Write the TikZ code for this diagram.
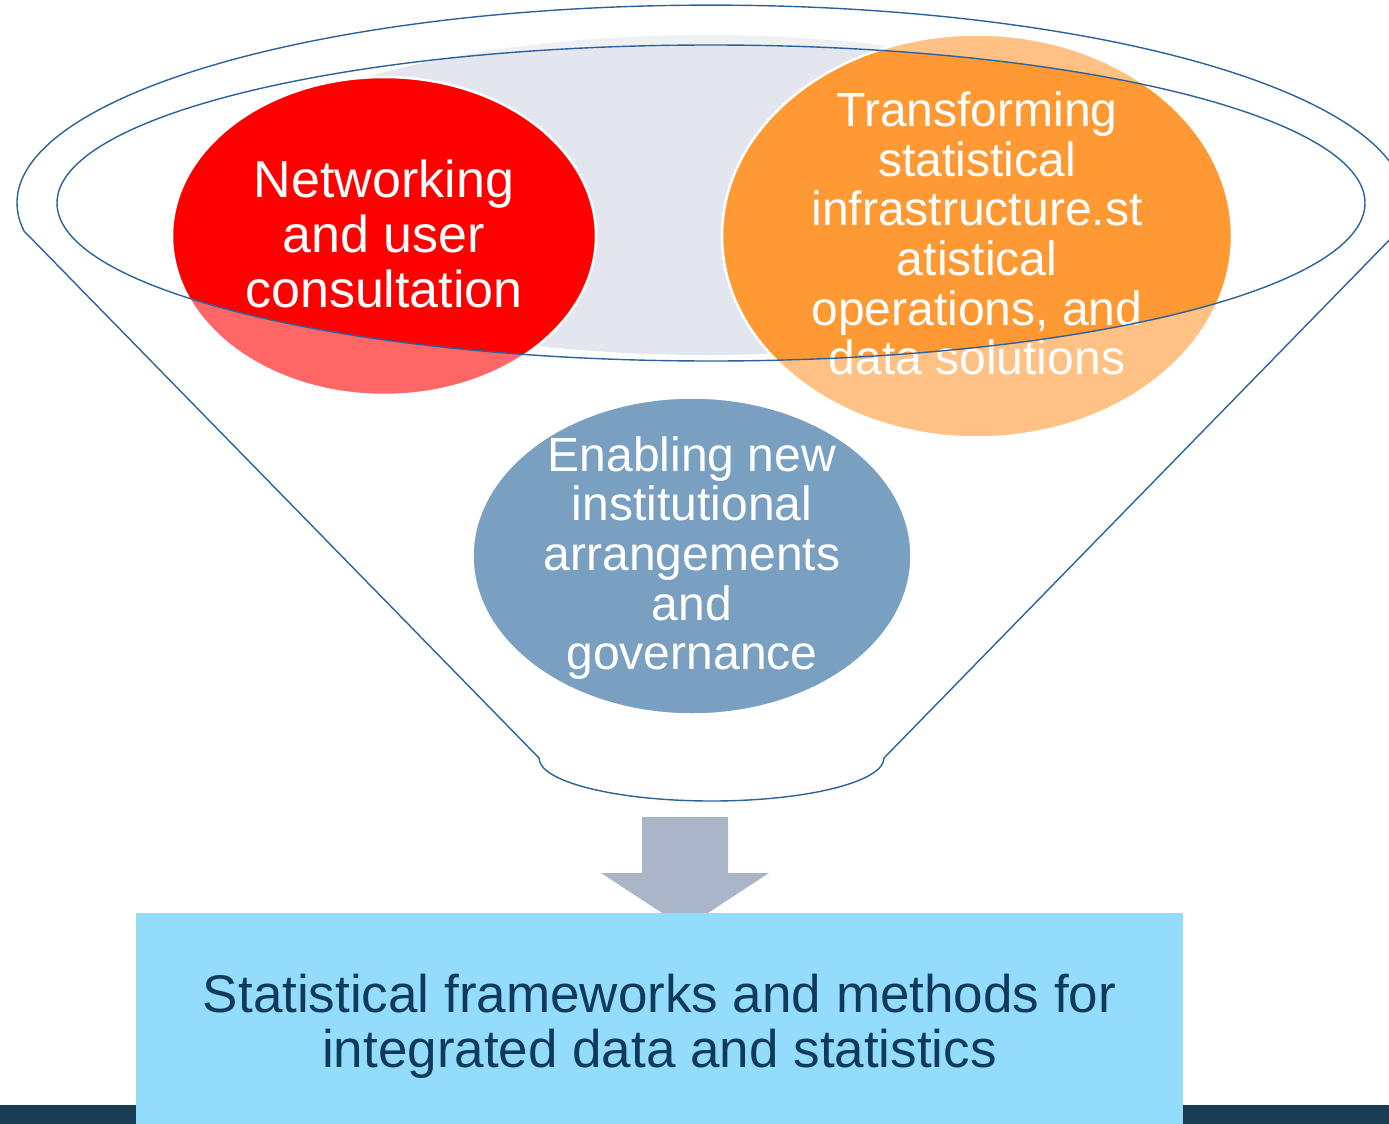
\documentclass[tikz,border=0pt]{standalone}
\usepackage{fontspec}
\setmainfont{Liberation Sans}
\usetikzlibrary{shapes.geometric}
\definecolor{funnelline}{RGB}{44,98,156}
\definecolor{bggray}{RGB}{227,230,238}
\definecolor{netred}{RGB}{255,0,0}
\definecolor{transorange}{RGB}{255,153,51}
\definecolor{enableblue}{RGB}{33,97,150}
\definecolor{arrowgray}{RGB}{171,181,200}
\definecolor{boxblue}{RGB}{148,220,252}
\definecolor{barnavy}{RGB}{26,60,84}
\definecolor{boxtext}{RGB}{16,58,90}
\tikzset{
  blob/.style={ellipse, draw=white, line width=2.5pt, inner sep=0pt},
  ovaltext/.style={align=center, inner sep=0pt, text=white},
  funnelpath/.style={draw=funnelline, line width=1.4pt},
}
\begin{document}
\begin{tikzpicture}[x=1pt,y=-1pt]
\useasboundingbox (0,0) rectangle (1389,1124);
% background ellipse inside the funnel mouth
\fill[bggray] (705,195) ellipse [x radius=500, y radius=160];
% coloured ovals
\node[blob, fill=netred, minimum width=424pt, minimum height=318pt] (net) at (384,236) {};
\node[blob, fill=transorange, minimum width=510pt, minimum height=403pt] (trans) at (977,236) {};
\node[blob, fill=enableblue, minimum width=439pt, minimum height=317pt] (enable) at (692,556) {};
% texts
\node[ovaltext, font=\fontsize{52}{55}\selectfont] (nettext) at (384,233.5)
  {Networking\\and user\\consultation};
\node[ovaltext, font=\fontsize{48}{49.6}\selectfont] (transtext) at (977,233.5)
  {Transforming\\statistical\\infrastructure.st\\atistical\\operations, and\\data solutions};
\node[ovaltext, font=\fontsize{48}{49.6}\selectfont] (enabletext) at (692,558)
  {Enabling new\\institutional\\arrangements\\and\\governance};
% translucent funnel body
\fill[white, opacity=0.4, even odd rule]
  (24,231) arc[start angle=171.9, end angle=368.1, x radius=694, y radius=198]
  -- (884,758) arc[start angle=0, end angle=180, x radius=172.5, y radius=43] -- cycle
  (711,203) ellipse [x radius=654, y radius=158];
% funnel outlines
\draw[funnelpath]
  (24,231) arc[start angle=171.9, end angle=368.1, x radius=694, y radius=198]
  -- (884,758) arc[start angle=0, end angle=180, x radius=172.5, y radius=43] -- cycle;
\draw[funnelpath] (711,203) ellipse [x radius=654, y radius=158];
% down arrow
\fill[arrowgray] (642,817) -- (728,817) -- (728,873) -- (769,873) -- (685,928)
  -- (601,873) -- (642,873) -- cycle;
% bottom bar and result box
\fill[barnavy] (0,1105) rectangle (1389,1124);
\node[rectangle, fill=boxblue, inner sep=0pt, minimum width=1047pt, minimum height=211pt] (result) at (659.5,1018.5) {};
\node[align=center, inner sep=0pt, text=boxtext, font=\fontsize{53}{55}\selectfont] (resulttext) at (659.5,1026)
  {Statistical frameworks and methods for\\integrated data and statistics};
\end{tikzpicture}
\end{document}
